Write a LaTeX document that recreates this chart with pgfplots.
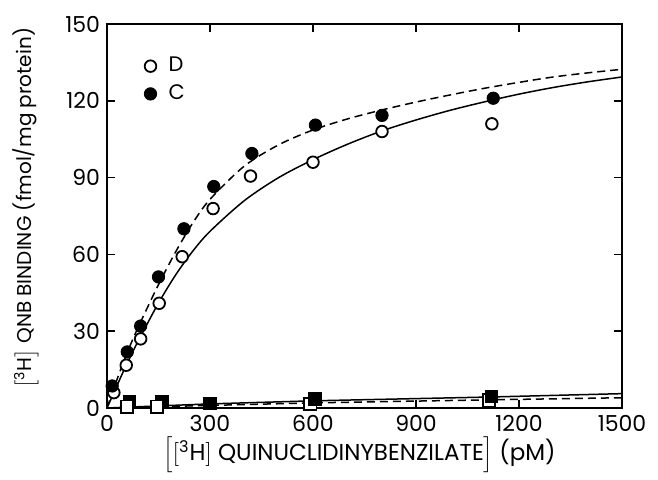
\documentclass[border=0pt]{standalone}
\usepackage{fontspec}
\setmainfont{Poppins}
\usepackage{pgfplots}
\pgfplotsset{compat=1.18}

% binding data (pM, fmol/mg protein)
\pgfplotstableread{
x y
20 6
56 16.7
98 27
152 40.9
219 59.1
309 77.9
418 90.6
600 96
801 108
1121 111
}\dataD
\pgfplotstableread{
x y
15 8.6
59 21.9
98 32
150 51.2
224 70
311 86.5
422 99.4
607 110.5
801 114.3
1125 121
}\dataC

\begin{document}
\begin{tikzpicture}
\begin{axis}[
  scale only axis, width=257.5pt, height=192pt,
  xmin=0, xmax=1500, ymin=0, ymax=150,
  xtick={0,300,...,1500}, ytick={0,30,...,150},
  tick align=inside, xtick pos=both, ytick pos=both,
  major tick length=4pt,
  axis line style={line width=1pt},
  every tick/.style={line width=0.8pt, black},
  tick label style={font=\fontsize{11}{13}\selectfont},
  /pgf/number format/assume math mode=true,
  /pgf/number format/1000 sep={},
  clip=false,
  xlabel={$\Bigl[\bigl[$\textsuperscript{3}H$\bigr]$ QUINUCLIDINYBENZILATE$\Bigr]$ (pM)},
  ylabel={$\bigl[$\textsuperscript{3}H$\bigr]$ QNB BINDING (fmol/mg protein)},
  xlabel style={at={(rel axis cs:0.49,-0.122)}, anchor=center, font=\fontsize{11.5}{13}\selectfont},
  ylabel style={at={(rel axis cs:-0.158,0.52)}, anchor=center, font=\fontsize{10}{12}\selectfont},
  legend style={at={(rel axis cs:0.06,0.935)}, anchor=north west, draw=none, fill=none,
    font=\fontsize{10.5}{12}\selectfont, row sep=1pt},
  legend cell align=left,
]
% fitted curves
\addplot[forget plot, black, line width=0.75pt, smooth] coordinates {
(0,0) (25,7.5) (50,15) (75,22) (100,28.5) (150,41) (200,52) (250,61.3)
(300,69) (400,81) (500,90) (600,97) (700,103) (800,108.2) (900,112.5)
(1000,116.3) (1100,119.6) (1200,122.6) (1300,125.2) (1400,127.4) (1500,129.3)};
\addplot[forget plot, black, line width=0.75pt, smooth, dash pattern=on 4pt off 2.5pt] coordinates {
(0,0) (25,9.6) (50,18.6) (75,26.8) (100,34.2) (150,48.2) (200,61) (250,72.3)
(300,81.5) (400,94.5) (500,102.8) (600,108.6) (700,112.9) (800,116.4) (900,119.5)
(1000,122.3) (1100,124.9) (1200,127.2) (1300,129.3) (1400,130.9) (1500,132.3)};
% nonspecific binding lines
\addplot[forget plot, black, line width=0.75pt] coordinates {
(0,0) (300,1.6) (600,2.8) (1120,4.3) (1500,5.6)};
\addplot[forget plot, black, line width=0.75pt, dash pattern=on 4pt off 2.5pt] coordinates {
(0,0) (300,1.0) (600,2.0) (1120,3.2) (1500,4.0)};
% nonspecific points
\addplot[forget plot, only marks, mark=square*, mark size=3.1pt,
  mark options={fill=white, draw=black, line width=0.9pt}] coordinates {
(592,1.6) (1113,3.0)};
\addplot[forget plot, only marks, mark=square*, mark size=3.1pt, mark options={fill=black}] coordinates {
(66,2.6) (160,2.4) (300,1.8) (605,3.6) (1120,4.6)};
\addplot[forget plot, only marks, mark=square*, mark size=3.1pt,
  mark options={fill=white, draw=black, line width=0.9pt}] coordinates {
(58,0.5) (146,0.5)};
% specific binding points
\addplot[only marks, mark=*, mark size=2.9pt,
  mark options={fill=white, draw=black, line width=0.9pt}] table {\dataD};
\addplot[only marks, mark=*, mark size=3.1pt, mark options={fill=black}] table {\dataC};
\legend{\hspace{4pt}D, \hspace{4pt}C}
\path (rel axis cs:-0.2078,-0.1875) rectangle (rel axis cs:1.0699,1.0625);
\end{axis}
\end{tikzpicture}
\end{document}
